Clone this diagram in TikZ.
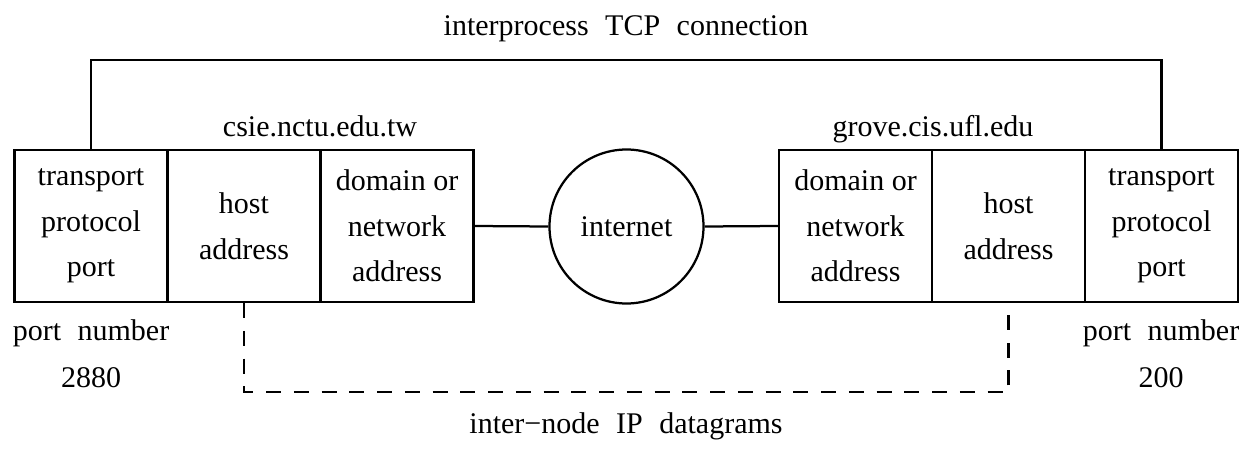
\documentclass[tikz,border=0pt]{standalone}
\usepackage{fontspec}
\setmainfont{Liberation Serif}
\newcommand{\wsp}{\hspace{0.55em}}
\begin{document}
\begin{tikzpicture}[x=0.4pt,y=-0.4pt,
  every node/.style={font=\fontsize{12}{18.2}\selectfont, inner sep=0pt},
  cell/.style={draw, line width=0.9pt, minimum width=61.2pt, minimum height=60.8pt, align=center},
  wire/.style={line width=0.9pt},
  dwire/.style={line width=0.9pt, dash pattern=on 6pt off 5.1pt},
  lbl/.style={anchor=base}]
\useasboundingbox (0,0) rectangle (1255,453);
% left host
\node[cell] (lp) at (91,226) {transport\\protocol\\port};
\node[cell] (lh) at (244,226) {host\\address};
\node[cell] (ld) at (397,226) {domain or\\network\\address};
% right host
\node[cell] (rd) at (855.5,226) {domain or\\network\\address};
\node[cell] (rh) at (1008.5,226) {host\\address};
\node[cell] (rp) at (1161.5,226) {transport\\protocol\\port};
% internet
\node[draw, circle, line width=0.9pt, minimum size=61.6pt] (net) at (626.5,226.5) {internet};
\draw[wire] (ld.east) -- (net.west);
\draw[wire] (net.east) -- (rd.west);
% TCP connection
\draw[wire] (lp.north) -- ++(0,-89) -| (rp.north);
% IP datagrams
\draw[dwire] (lh.south) -- ++(0,89) -| (rh.south);
% labels
\node[lbl] (tcp) at (626,35) {interprocess\wsp TCP\wsp connection};
\node[lbl] (lname) at (320,136) {csie.nctu.edu.tw};
\node[lbl] (rname) at (933,136) {grove.cis.ufl.edu};
\node[lbl] (lpn) at (91,340) {port\wsp number};
\node[lbl] (lpv) at (91,387) {2880};
\node[lbl] (rpn) at (1161,340) {port\wsp number};
\node[lbl] (rpv) at (1161,387) {200};
\node[lbl] (ip) at (626,433) {inter−node\wsp IP\wsp datagrams};
\end{tikzpicture}
\end{document}
